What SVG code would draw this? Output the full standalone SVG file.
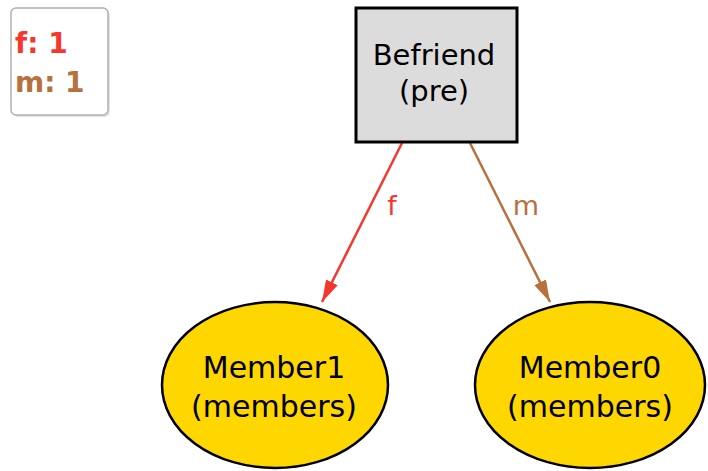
<svg xmlns="http://www.w3.org/2000/svg" width="708" height="471" viewBox="0 0 708 471">
  <style>
    text { font-family: "DejaVu Sans", "Liberation Sans", sans-serif; }
    .legend { font-size: 28px; font-weight: bold; }
    .lbl { font-size: 30px; fill: #000; text-anchor: middle; }
    .edge-lbl { font-size: 27px; text-anchor: middle; }
    .member { fill: #ffd700; stroke: #000; stroke-width: 2.5; }
    .f { stroke: #f5372e; fill: none; stroke-width: 2.5; }
    .m { stroke: #b8703c; fill: none; stroke-width: 2.5; }
  </style>
  <defs>
    <marker id="head-f" viewBox="0 0 22 13" refX="22" refY="6.5" markerWidth="22" markerHeight="13" markerUnits="userSpaceOnUse" orient="auto">
      <path d="M0,0 L22,6.5 L0,13 z" fill="#f5372e"/>
    </marker>
    <marker id="head-m" viewBox="0 0 22 13" refX="22" refY="6.5" markerWidth="22" markerHeight="13" markerUnits="userSpaceOnUse" orient="auto">
      <path d="M0,0 L22,6.5 L0,13 z" fill="#b8703c"/>
    </marker>
  </defs>
  <rect width="708" height="471" fill="#fff"/>

  <!-- legend -->
  <g id="legend">
    <rect x="13" y="10" width="97" height="107" rx="5" fill="#e4e4e4"/>
    <rect x="11" y="8" width="97" height="107" rx="5" fill="#fff" stroke="#b0b0b0" stroke-width="1.5"/>
    <text class="legend" x="15" y="53" fill="#f5372e">f: 1</text>
    <text class="legend" x="15" y="92" fill="#b8703c">m: 1</text>
  </g>

  <!-- connectors -->
  <g id="edges">
    <line class="f" x1="402" y1="143" x2="322" y2="302" marker-end="url(#head-f)"/>
    <text class="edge-lbl" x="392" y="215" fill="#f5372e">f</text>
    <line class="m" x1="470" y1="143" x2="550" y2="302" marker-end="url(#head-m)"/>
    <text class="edge-lbl" x="526" y="215" fill="#b8703c">m</text>
  </g>

  <g id="befriend">
    <rect x="356" y="8" width="161" height="134" fill="#dcdcdc" stroke="#000" stroke-width="3"/>
    <text class="lbl" x="434" y="65" style="font-size:29px">Befriend</text>
    <text class="lbl" x="434" y="101" style="font-size:29px">(pre)</text>
  </g>

  <g id="member1">
    <ellipse class="member" cx="275" cy="385" rx="113" ry="83"/>
    <text class="lbl" x="274" y="378">Member1</text>
    <text class="lbl" x="274" y="417">(members)</text>
  </g>

  <g id="member0">
    <ellipse class="member" cx="590" cy="385" rx="115" ry="83"/>
    <text class="lbl" x="590" y="378">Member0</text>
    <text class="lbl" x="590" y="417">(members)</text>
  </g>
</svg>
